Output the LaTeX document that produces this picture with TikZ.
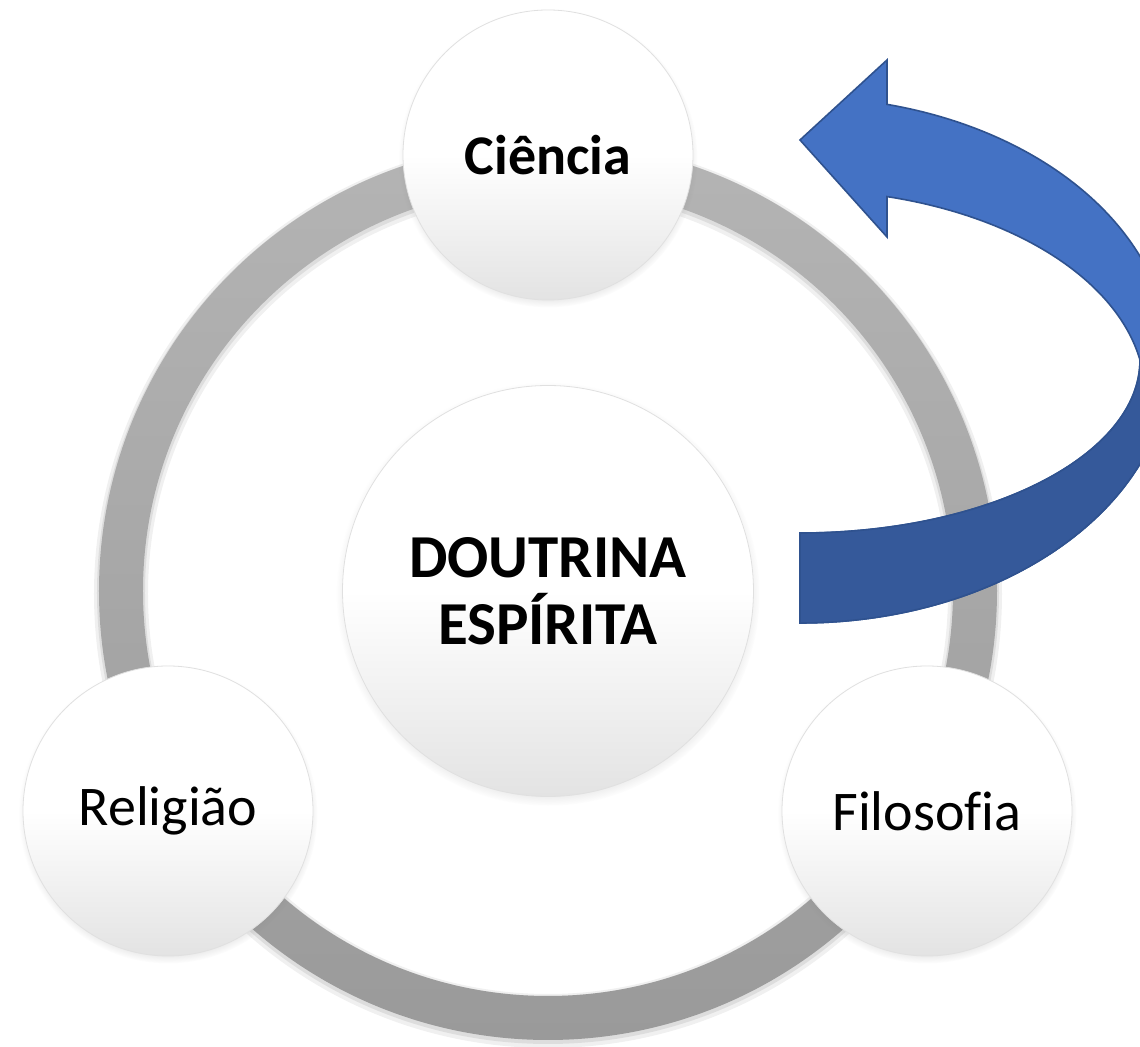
\documentclass[tikz,border=0pt]{standalone}
\usepackage{fontspec}
\setmainfont{Carlito}[Ligatures=NoCommon]
\usetikzlibrary{positioning,shadows}

\definecolor{ringtop}{HTML}{B4B4B4}
\definecolor{ringbot}{HTML}{9A9A9A}
\definecolor{arrowblue}{HTML}{4472C4}
\definecolor{arrowdark}{HTML}{35599A}
\definecolor{arrowline}{HTML}{2F528F}

\tikzset{
  pillar/.style={circle, minimum size=145pt, inner sep=0pt, align=center,
    top color=white, bottom color=black!11, middle color=white,
    draw=black!12, line width=.4pt,
    circular drop shadow={shadow scale=1.03, shadow xshift=0pt, shadow yshift=-1.5pt, opacity=.4},
    font=\fontsize{28}{33.5}\selectfont},
  core/.style={pillar, minimum size=205.5pt, font=\bfseries\fontsize{30.5}{33.5}\selectfont},
}

\begin{document}
\begin{tikzpicture}[x=0.5pt, y=0.5pt, on grid]

\useasboundingbox (-548,-456) rectangle (592,591);

% ring
\fill[black, opacity=.06, even odd rule] (0,-3) circle[radius=454] circle[radius=400];
\fill[black, opacity=.08, even odd rule] (0,-2) circle[radius=451] circle[radius=403];
\shade[top color=ringtop, bottom color=ringbot, even odd rule] (0,0) circle[radius=449] circle[radius=405];

% nodes
\node[core] (doutrina) at (0,0) {DOUTRINA\\ESPÍRITA};%
\node[pillar, font=\bfseries\fontsize{28}{33.5}\selectfont, above=218pt of doutrina] (ciencia) {Ciência};%
\node[pillar, below left=110pt and 190pt of doutrina] (religiao) {Religião};%
\node[pillar, below right=110pt and 189.5pt of doutrina] (filosofia) {Filosofia};%

% curved arrow
\begin{scope}
\clip (-548,-456) rectangle (592,591);
\filldraw[fill=arrowblue, draw=arrowline, line width=.8pt]
  (252,-32) arc[x radius=370, y radius=263, start angle=-90, end angle=76.4]
  -- (339,531) -- (252,451) -- (339,354) -- (339,394.4)
  arc[x radius=345, y radius=205, start angle=75.4, end angle=9.8]
  arc[x radius=340, y radius=173, start angle=0, end angle=-90] -- cycle;
\filldraw[fill=arrowdark, draw=arrowline, line width=.8pt]
  (252,-32) arc[x radius=370, y radius=263, start angle=-90, end angle=0]
  -- (592,231) arc[x radius=340, y radius=173, start angle=0, end angle=-90] -- cycle;
\end{scope}

\end{tikzpicture}
\end{document}
